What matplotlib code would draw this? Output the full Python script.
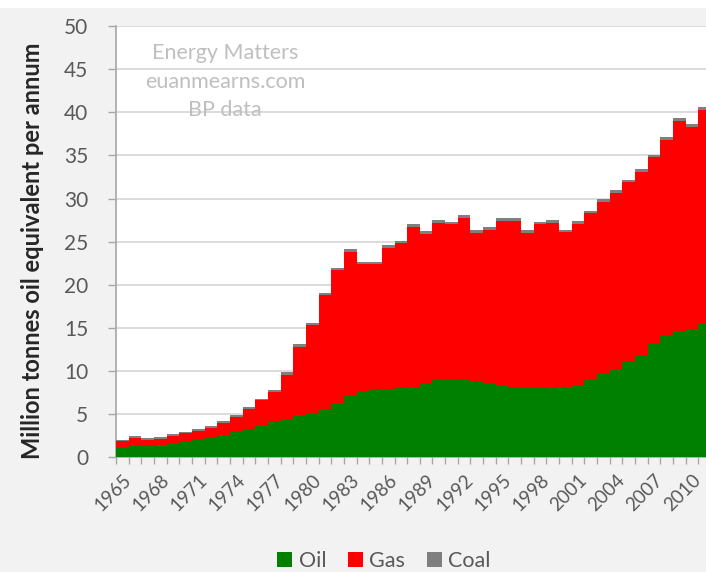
import matplotlib
matplotlib.use("Agg")
import matplotlib.pyplot as plt
from matplotlib.patches import Rectangle, Patch
from matplotlib.ticker import FixedLocator
import numpy as np

years = list(range(1965, 2012))
oil = [1.15, 1.45, 1.35, 1.45, 1.6, 1.8, 2.05, 2.25, 2.6, 2.9,
       3.3, 3.7, 4.2, 4.4, 4.9, 5.2, 5.6, 6.3, 7.1, 7.6,
       7.8, 7.9, 8.0, 8.2, 8.6, 9.0, 9.0, 9.0, 8.9, 8.6,
       8.3, 8.1, 8.0, 8.0, 8.0, 8.2, 8.3, 9.0, 9.7, 10.3,
       11.1, 11.7, 13.2, 14.2, 14.7, 14.9, 15.5]
gas = [0.70, 0.80, 0.65, 0.70, 0.90, 1.00, 1.05, 1.20, 1.40, 1.80,
       2.30, 2.90, 3.40, 5.20, 7.90, 10.10, 13.20, 15.40, 16.70, 14.80,
       14.60, 16.40, 16.80, 18.50, 17.30, 18.20, 18.00, 18.80, 17.10, 17.80,
       19.10, 19.30, 18.00, 19.00, 19.20, 17.90, 18.80, 19.30, 19.90, 20.40,
       20.80, 21.40, 21.60, 22.60, 24.30, 23.40, 24.80]
coal = [0.2] * 13 + [0.3] * 34
series_names = ["Oil", "Gas", "Coal"]
series_colors = ["#008000", "#ff0000", "#7f7f7f"]
year_ticks = list(range(1965, 2011, 3))
y_ticks = list(range(0, 51, 5))

W, H = 706, 572
fig = plt.figure(figsize=(W / 100, H / 100), dpi=100)
fig.patch.set_facecolor("#f2f2f2")
fig.patches.append(Rectangle((0, 1 - 8 / H), 1, 8 / H, transform=fig.transFigure,
                             facecolor="white", edgecolor="none", zorder=0))

left, right, bottom, top = 116, 711, 457.4, 26
ax = fig.add_axes([left / W, 1 - bottom / H, (right - left) / W, (bottom - top) / H])
ax.set_facecolor("white")

x = np.array(years)
o = np.array(oil); g = np.array(gas); c = np.array(coal)
ax.bar(x, o, width=1.0, color=series_colors[0], linewidth=0, zorder=3)
ax.bar(x, g, width=1.0, bottom=o, color=series_colors[1], linewidth=0, zorder=3)
ax.bar(x, c, width=1.0, bottom=o + g, color=series_colors[2], linewidth=0, zorder=3)

ax.set_xlim(1964.5, 2011.5)
ax.set_ylim(0, 50)
ax.set_yticks(y_ticks)
ax.yaxis.grid(True, color="#d9d9d9", linewidth=1.3, zorder=0)
ax.set_axisbelow(True)

for s in ["top", "right"]:
    ax.spines[s].set_visible(False)
ax.spines["left"].set_color("#a6a6a6")
ax.spines["left"].set_linewidth(1.2)
ax.spines["bottom"].set_color("#a6a6a6")
ax.spines["bottom"].set_linewidth(1.2)

ax.xaxis.set_major_locator(FixedLocator(year_ticks))
ax.xaxis.set_minor_locator(FixedLocator([yr - 0.5 for yr in years]))
ax.tick_params(axis="x", which="major", length=0, pad=10)
ax.tick_params(axis="x", which="minor", length=5, color="#a6a6a6", width=1)
ax.tick_params(axis="y", which="major", length=6, color="#a6a6a6", width=1, pad=14)

ax.set_xticklabels([str(v) for v in year_ticks], rotation=45, ha="right", va="top",
                   rotation_mode="anchor", fontsize=13.5, color="#595959", family="Lato")
ax.set_yticklabels([str(v) for v in y_ticks], fontsize=15, color="#595959", family="Lato")

fig.text(33 / W, 1 - 251 / H, "Million tonnes oil equivalent per annum", rotation=90,
         ha="center", va="center", fontsize=17, fontweight="bold", color="#262626",
         family="Lato")

for txt, yy in [("Energy Matters", 53), ("euanmearns.com", 82), ("BP data", 110)]:
    fig.text(225 / W, 1 - yy / H, txt, ha="center", va="center", fontsize=15.5,
             color="#bfbfbf", family="Lato")

handles = [Patch(facecolor=col, edgecolor="none") for col in series_colors]
fig.legend(handles, series_names, loc="center", bbox_to_anchor=(384 / W, 1 - 561 / H),
           ncol=3, frameon=False, handlelength=0.7, handleheight=0.7, handletextpad=0.3,
           columnspacing=1.0, prop={"family": "Lato", "size": 15.5}, labelcolor="#595959")

fig.savefig("out.png", dpi=100, facecolor=fig.get_facecolor())
